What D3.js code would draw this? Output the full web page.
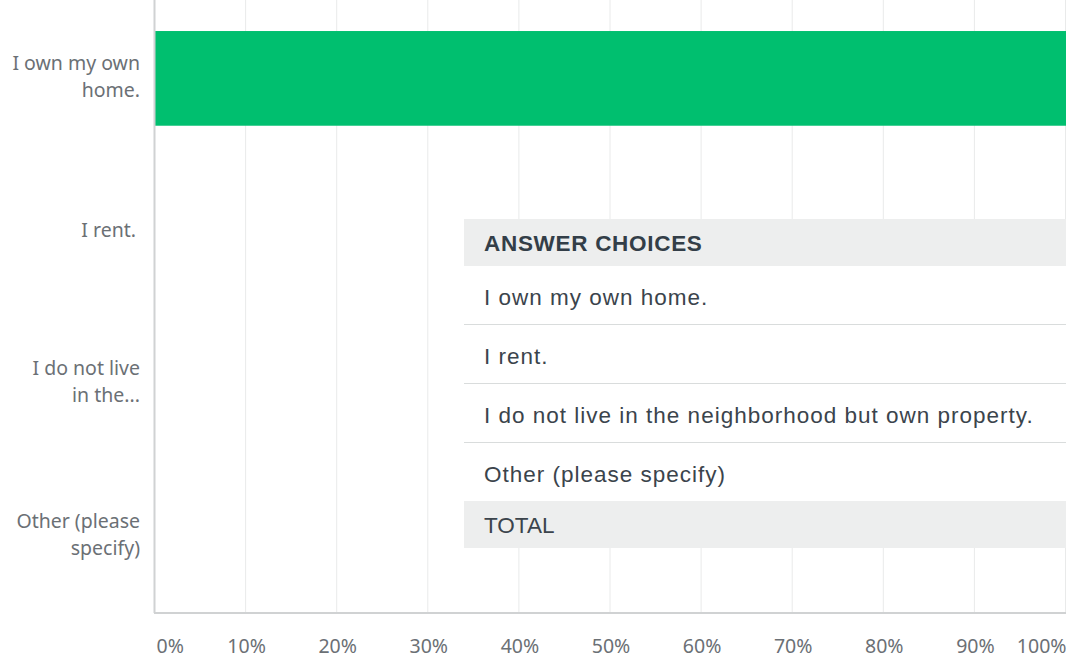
<!DOCTYPE html>
<html>
<head>
<meta charset="utf-8">
<script src="https://cdn.jsdelivr.net/npm/d3@7"></script>
<style>
  body { margin: 0; background: #fff; }
  svg { display: block; }
</style>
</head>
<body>
<svg id="chart"></svg>
<script>
const width = 1066;
const height = 658;

// data
const categories = ['I own my own home.', 'I rent.', 'I do not live in the neighborhood but own property.', 'Other (please specify)'];
const shortLabels = [['I own my own', 'home.'], ['I rent.'], ['I do not live', 'in the...'], ['Other (please', 'specify)']];
const values = [1.0, 0, 0, 0];
const ticks = [0, 0.1, 0.2, 0.3, 0.4, 0.5, 0.6, 0.7, 0.8, 0.9, 1.0];
const tableHeader = 'ANSWER CHOICES';
const tableTotal = 'TOTAL';

const margin = {top: 2, left: 155, right: 0, bottom: 45};
const svg = d3.select('#chart').attr('width', width).attr('height', height);

const x = d3.scaleLinear().domain([0, 1]).range([margin.left, width - margin.right]);
const y = d3.scaleBand().domain(categories).range([margin.top, height - margin.bottom]).paddingInner(0.38).paddingOuter(0.19);
const plotBottom = height - margin.bottom;

// grid
svg.append('g')
  .selectAll('line')
  .data(ticks.slice(1))
  .enter()
  .append('line')
  .attr('x1', d => x(d) - 0.5).attr('x2', d => x(d) - 0.5)
  .attr('y1', 0).attr('y2', plotBottom)
  .attr('stroke', '#e9eaea').attr('stroke-width', 1);

// bars
svg.append('g')
  .selectAll('rect')
  .data(categories)
  .enter()
  .append('rect')
  .attr('x', x(0))
  .attr('y', d => y(d))
  .attr('width', (d, i) => x(values[i]) - x(0))
  .attr('height', y.bandwidth())
  .attr('fill', '#00bf6f');

// axis lines
svg.append('line')
  .attr('x1', x(0) - 0.5).attr('x2', x(0) - 0.5)
  .attr('y1', 0).attr('y2', plotBottom)
  .attr('stroke', '#d0d2d3').attr('stroke-width', 2);
svg.append('line')
  .attr('x1', x(0) - 1).attr('x2', width)
  .attr('y1', plotBottom).attr('y2', plotBottom)
  .attr('stroke', '#d0d2d3').attr('stroke-width', 2);

// x tick labels
const xAxis = d3.axisBottom(x).tickValues(ticks).tickSize(0).tickFormat(d3.format('.0%'));
const gx = svg.append('g').attr('transform', `translate(0,${plotBottom})`).call(xAxis);
gx.select('.domain').remove();
gx.selectAll('text')
  .attr('y', 0).attr('dy', 40)
  .attr('font-family', '"Noto Sans", sans-serif')
  .attr('font-size', 19.5)
  .attr('fill', '#6b7075')
  .attr('text-anchor', (d, i) => i === 0 ? 'start' : (i === ticks.length - 1 ? 'end' : 'middle'))
  .attr('dx', (d, i) => i === 0 ? 1 : 0);

// y labels
const lineH = 27;
svg.append('g')
  .selectAll('text')
  .data(categories)
  .enter()
  .append('text')
  .attr('text-anchor', 'end')
  .attr('font-family', '"Noto Sans", sans-serif')
  .attr('font-size', 19.5)
  .attr('fill', '#6b7075')
  .each(function(d, i) {
    const lines = shortLabels[i];
    const cy = y(d) + y.bandwidth() / 2;
    const t = d3.select(this);
    lines.forEach((l, j) => {
      t.append('tspan')
        .attr('x', lines.length === 1 ? 136 : 140)
        .attr('y', lines.length === 1 ? cy + 6 : cy + 5 + (j - 0.5) * lineH)
        .text(l);
    });
  });

// answer table
const tx = 464, tw = width - 464;
const headH = 47, rowH = 59;
const font = '"Liberation Sans", Arial, sans-serif';
const table = svg.append('g');
let ty = 219;
table.append('rect').attr('x', tx).attr('y', ty).attr('width', tw).attr('height', headH).attr('fill', '#edeeee');
table.append('text').attr('x', tx + 20).attr('y', ty + headH / 2 + 8)
  .attr('font-family', font).attr('font-size', 22.5).attr('font-weight', 'bold')
  .attr('letter-spacing', 0.7)
  .attr('fill', '#333e48').text(tableHeader);
ty += headH;
categories.forEach((c, i) => {
  table.append('rect').attr('x', tx).attr('y', ty).attr('width', tw).attr('height', rowH).attr('fill', '#fff');
  table.append('text').attr('x', tx + 20).attr('y', ty + rowH / 2 + 9)
    .attr('font-family', font).attr('font-size', 22.5)
    .attr('letter-spacing', 1)
    .attr('fill', '#3b444c').text(c);
  if (i < categories.length - 1) {
    table.append('line').attr('x1', tx).attr('x2', width).attr('y1', ty + rowH).attr('y2', ty + rowH)
      .attr('stroke', '#d9dcdc').attr('stroke-width', 2);
  }
  ty += rowH;
});
ty -= 1;
table.append('rect').attr('x', tx).attr('y', ty).attr('width', tw).attr('height', headH).attr('fill', '#edeeee');
table.append('text').attr('x', tx + 20).attr('y', ty + headH / 2 + 8)
  .attr('font-family', font).attr('font-size', 22.5)
  .attr('fill', '#3b444c').text(tableTotal);
</script>
</body>
</html>
